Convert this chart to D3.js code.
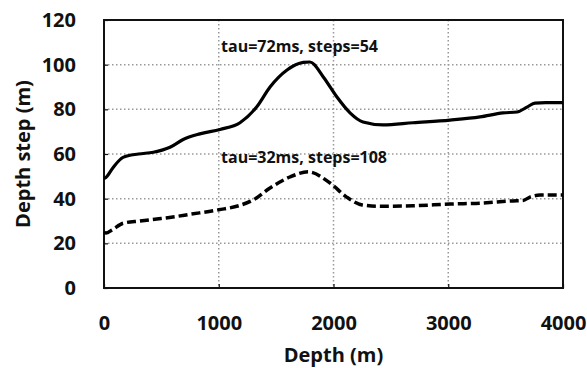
<!DOCTYPE html>
<html>
<head>
<meta charset="utf-8">
<script src="https://cdn.jsdelivr.net/npm/d3@7"></script>
<style>
  body { margin: 0; background: #fff; }
  svg text { font-family: "Open Sans", sans-serif; font-weight: 700; fill: #111; }
</style>
</head>
<body>
<svg id="chart" width="587" height="368"></svg>
<script>
// Data
const xTicks = [0, 1000, 2000, 3000, 4000];
const yTicks = [0, 20, 40, 60, 80, 100, 120];

const depthA = [0, 17, 80, 166, 300, 430, 575, 690, 835, 1011, 1185, 1330, 1447, 1595, 1737, 1795, 1911, 2030, 2144, 2257, 2431, 2693, 3015, 3277, 3477, 3600, 3686, 3756, 3850, 4000];
const stepA  = [49, 49.5, 54, 58.5, 60, 60.8, 63, 66.5, 69, 71, 74, 81, 90, 97.6, 101, 101.2, 94.5, 85.5, 78.4, 74.3, 73, 74, 75.2, 76.6, 78.4, 78.8, 81, 82.8, 83, 83];

const depthB = [0, 17, 70, 166, 314, 460, 600, 750, 1000, 1185, 1300, 1447, 1620, 1780, 1970, 2115, 2250, 2405, 2693, 3015, 3277, 3565, 3651, 3712, 3800, 4000];
const stepB  = [25, 24.6, 26, 29, 30, 30.9, 31.8, 33, 35, 37, 39.4, 44.8, 49.7, 52, 47, 40.7, 37.2, 36.6, 36.8, 37.6, 38, 39, 39.2, 40.7, 41.6, 41.6];

const labelA = 'tau=72ms, steps=54';
const labelB = 'tau=32ms, steps=108';

const svg = d3.select('#chart');
const margin = { top: 20, right: 24, bottom: 80, left: 104 };
const width = 587 - margin.left - margin.right;
const height = 368 - margin.top - margin.bottom;

const x = d3.scaleLinear().domain([0, 4000]).range([0, width]);
const y = d3.scaleLinear().domain([0, 120]).range([height, 0]);

const g = svg.append('g').attr('transform', `translate(${margin.left},${margin.top})`);

// Dotted grid
g.append('g')
  .selectAll('line')
  .data(yTicks.filter(d => d > 0 && d < 120))
  .enter().append('line')
  .attr('x1', 0).attr('x2', width)
  .attr('y1', d => y(d)).attr('y2', d => y(d))
  .attr('stroke', '#999').attr('stroke-width', 1.5).attr('stroke-dasharray', '1.5,2.5');

g.append('g')
  .selectAll('line')
  .data(xTicks.filter(d => d > 0 && d < 4000))
  .enter().append('line')
  .attr('x1', d => x(d)).attr('x2', d => x(d))
  .attr('y1', 0).attr('y2', height)
  .attr('stroke', '#999').attr('stroke-width', 1.5).attr('stroke-dasharray', '1.5,2.5');

// Axes (ticks point inward)
const xAxis = g.append('g')
  .attr('transform', `translate(0,${height})`)
  .call(d3.axisBottom(x).tickValues(xTicks).tickSize(-4).tickPadding(28).tickFormat(d3.format('d')));
const yAxis = g.append('g')
  .call(d3.axisLeft(y).tickValues(yTicks).tickSize(-4).tickPadding(28));

[xAxis, yAxis].forEach(a => {
  a.select('.domain').remove();
  a.selectAll('line').attr('stroke', '#111').attr('stroke-width', 1.2);
  a.selectAll('text').style('font-size', '20px').attr('fill', '#111');
});

// Frame
g.append('rect')
  .attr('width', width).attr('height', height)
  .attr('fill', 'none').attr('stroke', '#111').attr('stroke-width', 2);

const line = d3.line().curve(d3.curveMonotoneX);

g.append('path')
  .datum(depthA.map((d, i) => [x(d), y(stepA[i])]))
  .attr('d', line)
  .attr('fill', 'none').attr('stroke', '#000').attr('stroke-width', 3.2);

g.append('path')
  .datum(depthB.map((d, i) => [x(d), y(stepB[i])]))
  .attr('d', line)
  .attr('fill', 'none').attr('stroke', '#000').attr('stroke-width', 3.5)
  .attr('stroke-dasharray', '9,4');

// Annotations
g.append('text')
  .attr('x', x(1020)).attr('y', y(105.5))
  .attr('textLength', 157).attr('lengthAdjust', 'spacingAndGlyphs')
  .style('font-size', '16px')
  .text(labelA);
g.append('text')
  .attr('x', x(1020)).attr('y', y(56))
  .attr('textLength', 166).attr('lengthAdjust', 'spacingAndGlyphs')
  .style('font-size', '16px')
  .text(labelB);

// Axis titles
svg.append('text')
  .attr('x', margin.left + width / 2).attr('y', 362)
  .attr('text-anchor', 'middle')
  .style('font-size', '20px')
  .text('Depth (m)');
svg.append('text')
  .attr('transform', `translate(30,${margin.top + height / 2}) rotate(-90)`)
  .attr('text-anchor', 'middle')
  .style('font-size', '20px')
  .text('Depth step (m)');
</script>
</body>
</html>
